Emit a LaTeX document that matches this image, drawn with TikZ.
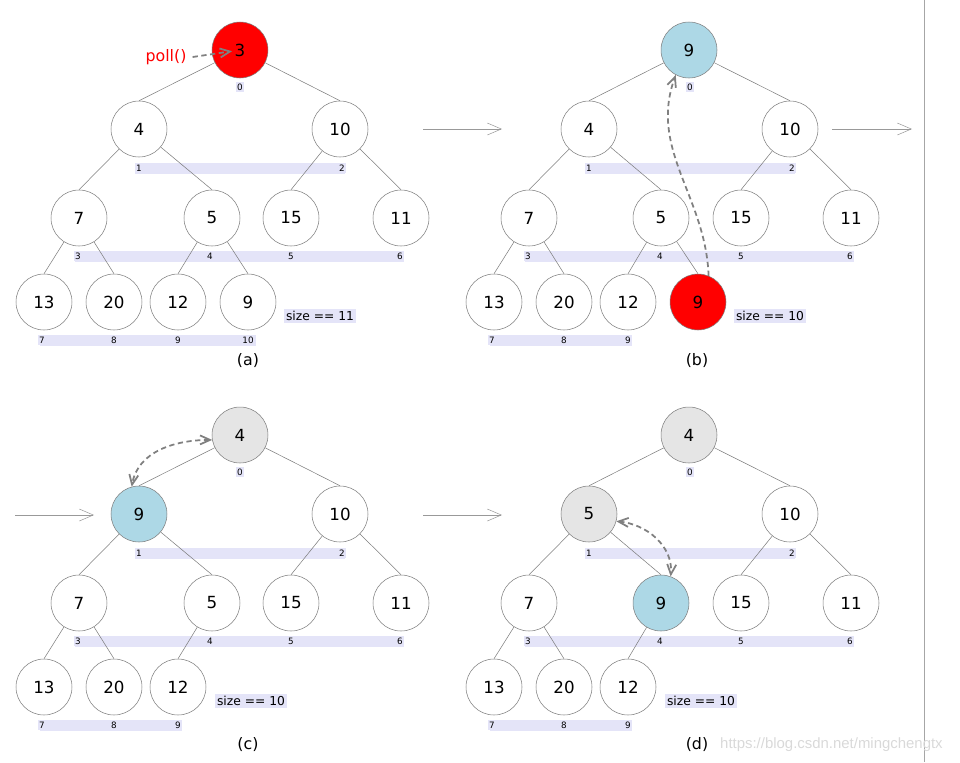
\documentclass[tikz,border=0pt]{standalone}
\usepackage{fontspec}
\setmainfont{DejaVu Sans}
\newfontfamily\markfont{Liberation Sans}
\usetikzlibrary{arrows.meta}

\definecolor{idxbg}{RGB}{228,228,248}
\definecolor{heapblue}{RGB}{173,216,230}
\definecolor{heapgray}{RGB}{229,229,229}
\definecolor{linegray}{RGB}{125,125,125}

\tikzset{
	heap/.style={circle, draw=linegray, line width=0.3pt, minimum size=1.12cm, inner sep=0pt, font=\fontsize{9.5}{11}\selectfont},
	idx/.style={fill=idxbg, inner sep=0.8pt, font=\fontsize{5}{6}\selectfont},
	link/.style={draw=linegray, line width=0.3pt},
	sizebox/.style={fill=idxbg, inner sep=1pt, font=\fontsize{7}{8.5}\selectfont},
	caption/.style={font=\fontsize{9}{11}\selectfont},
	stepto/.style={draw=gray!80, line width=0.3pt, -{Straight Barb[length=2.8mm,width=2.4mm]}},
	swap/.style={draw=gray, line width=1pt, dash pattern=on 3pt off 2pt, -{Straight Barb[length=2mm,width=1.8mm]}},
	swapboth/.style={swap, {Straight Barb[length=2mm,width=1.8mm]}-{Straight Barb[length=2mm,width=1.8mm]}}
}

% #1 name, #2 x, #3 y, #4 value, #5 fill
\newcommand{\heapnode}[5] {
	\node[heap, fill=#5] (#1) at (#2,#3) {#4};
}

% #1 prefix, #2 x offset, #3 y offset, #4 last index, #5 end of bottom band
\newcommand{\heapindex}[5] {
	\fill[idxbg] (#2+135,#3+163) rectangle (#2+345,#3+174);
	\fill[idxbg] (#2+75,#3+251) rectangle (#2+404,#3+262);
	\fill[idxbg] (#2+40,#3+335) rectangle (#2+#5,#3+346);
	\foreach \i/\lx/\ly in {0/240/87,1/139/168,2/342/168,3/78/256,4/210/256,5/291/256,6/400/256,7/42/340,8/114/340,9/178/340,10/248/340} {
		\ifnum\i>#4\relax\else
			\node[idx] (#1i\i) at (#2+\lx,#3+\ly) {\i};
		\fi
	}
}

% #1 prefix, #2 last index
\newcommand{\heapedges}[2] {
	\foreach \c/\p in {1/0,2/0,3/1,4/1,5/2,6/2,7/3,8/3,9/4,10/4} {
		\ifnum\c>#2\relax\else
			\draw[link] (#1\p) -- (#1\c.north);
		\fi
	}
}

\begin{document}
\begin{tikzpicture}[x=0.02cm, y=-0.02cm]
	\useasboundingbox (0,0) rectangle (960,762);

	% (a)
	\heapindex{a}{0}{0}{10}{256}
	\heapnode{a0}{240}{50}{3}{red}
	\heapnode{a1}{139}{129}{4}{white}
	\heapnode{a2}{340}{129}{10}{white}
	\heapnode{a3}{79}{218}{7}{white}
	\heapnode{a4}{212}{218}{5}{white}
	\heapnode{a5}{291}{218}{15}{white}
	\heapnode{a6}{401}{218}{11}{white}
	\heapnode{a7}{44}{302}{13}{white}
	\heapnode{a8}{114}{302}{20}{white}
	\heapnode{a9}{178}{302}{12}{white}
	\heapnode{a10}{248}{302}{9}{white}
	\heapedges{a}{10}
	\node[sizebox] (asize) at (320,316) {size == 11};
	\node[caption] (acap) at (248,361) {(a)};
	\node[text=red, font=\fontsize{9}{11}\selectfont] (poll) at (166,57) {poll()};
	\draw[swap, shorten >=1.6mm] (poll.east) -- (a0.center);

	% (b)
	\heapindex{b}{450}{0}{9}{182}
	\heapnode{b0}{689}{50}{9}{heapblue}
	\heapnode{b1}{589}{129}{4}{white}
	\heapnode{b2}{790}{129}{10}{white}
	\heapnode{b3}{529}{218}{7}{white}
	\heapnode{b4}{661}{218}{5}{white}
	\heapnode{b5}{741}{218}{15}{white}
	\heapnode{b6}{851}{218}{11}{white}
	\heapnode{b7}{494}{302}{13}{white}
	\heapnode{b8}{564}{302}{20}{white}
	\heapnode{b9}{628}{302}{12}{white}
	\heapnode{b10}{698}{302}{9}{red}
	\heapedges{b}{10}
	\node[sizebox] (bsize) at (770,316) {size == 10};
	\node[caption] (bcap) at (697,361) {(b)};
	\draw[swap] (b10.68) to[out=92,in=-110] (b0.242);

	% (c)
	\heapindex{c}{0}{385}{9}{182}
	\heapnode{c0}{240}{435}{4}{heapgray}
	\heapnode{c1}{139}{514}{9}{heapblue}
	\heapnode{c2}{340}{514}{10}{white}
	\heapnode{c3}{79}{603}{7}{white}
	\heapnode{c4}{212}{603}{5}{white}
	\heapnode{c5}{291}{603}{15}{white}
	\heapnode{c6}{401}{603}{11}{white}
	\heapnode{c7}{44}{687}{13}{white}
	\heapnode{c8}{114}{687}{20}{white}
	\heapnode{c9}{178}{687}{12}{white}
	\heapedges{c}{9}
	\node[sizebox] (csize) at (251,701) {size == 10};
	\node[caption] (ccap) at (248,745) {(c)};
	\draw[swapboth] (c0.190) to[out=180,in=80] (c1.105);

	% (d)
	\heapindex{d}{450}{385}{9}{182}
	\heapnode{d0}{689}{435}{4}{heapgray}
	\heapnode{d1}{589}{514}{5}{heapgray}
	\heapnode{d2}{790}{514}{10}{white}
	\heapnode{d3}{529}{603}{7}{white}
	\heapnode{d4}{661}{603}{9}{heapblue}
	\heapnode{d5}{741}{603}{15}{white}
	\heapnode{d6}{851}{603}{11}{white}
	\heapnode{d7}{494}{687}{13}{white}
	\heapnode{d8}{564}{687}{20}{white}
	\heapnode{d9}{628}{687}{12}{white}
	\heapedges{d}{9}
	\node[sizebox] (dsize) at (701,701) {size == 10};
	\node[caption] (dcap) at (697,745) {(d)};
	\draw[swapboth] (d1.-15) to[out=-5,in=85] (d4.70);

	% steps between panels
	\coordinate (ab1) at (423,129);
	\coordinate (ab2) at (502,129);
	\coordinate (bc1) at (832,129);
	\coordinate (bc2) at (912,129);
	\coordinate (ca1) at (15,515);
	\coordinate (ca2) at (94,515);
	\coordinate (cd1) at (423,515);
	\coordinate (cd2) at (502,515);
	\draw[stepto] (ab1) -- (ab2);
	\draw[stepto] (bc1) -- (bc2);
	\draw[stepto] (ca1) -- (ca2);
	\draw[stepto] (cd1) -- (cd2);

	\draw[gray!70, line width=0.5pt] (924,0) -- (924,762);
	\node[anchor=west, text=gray!30, font=\markfont\fontsize{8.5}{10}\selectfont] (mark) at (714,745) {https://blog.csdn.net/mingchengtx};
\end{tikzpicture}
\end{document}
